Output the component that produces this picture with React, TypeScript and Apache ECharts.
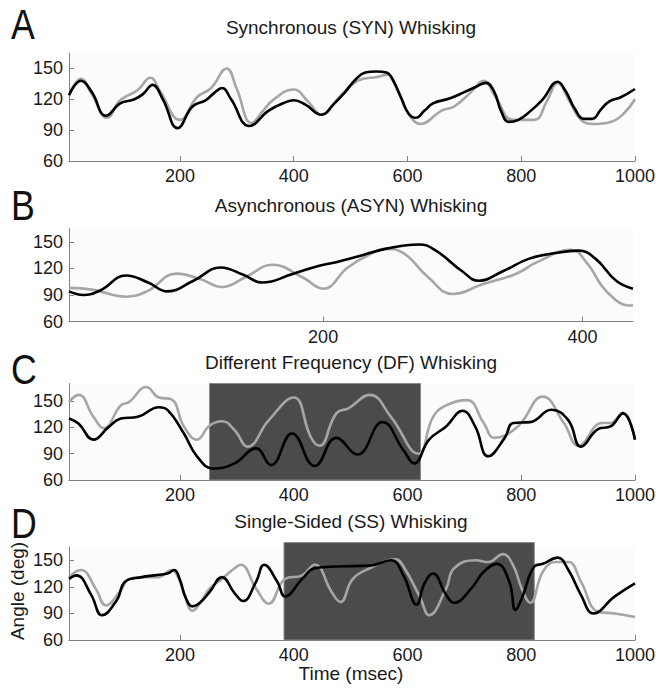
import React, { useEffect, useRef } from "react";
import * as echarts from "echarts";

// ---------- data ----------
const panelLetters = ["A", "B", "C", "D"];
const panelTitles = [
  "Synchronous (SYN) Whisking",
  "Asynchronous (ASYN) Whisking",
  "Different Frequency (DF) Whisking",
  "Single-Sided (SS) Whisking",
];
const yTickValues = [60, 90, 120, 150];
const xTicksFull = [200, 400, 600, 800, 1000];
const xTicksAsyn = [200, 400];

const synBlack = [
  [5, 124], [26, 138], [45, 127], [70, 104], [95, 116], [120, 120], [135, 125], [152, 134],
  [170, 120], [196, 92], [222, 113], [245, 119], [260, 126], [274, 131], [290, 120], [322, 94],
  [356, 109], [385, 117], [400, 119], [420, 115], [449, 105], [470, 115], [489, 126], [510, 140],
  [526, 146], [545, 147], [563, 146], [575, 138], [590, 120], [602, 106], [615, 102], [630, 109],
  [645, 116], [675, 121], [700, 127], [720, 132], [738, 136], [752, 128], [765, 108], [778, 98],
  [795, 100], [815, 108], [838, 120], [864, 137], [878, 128], [895, 110], [910, 101], [925, 101],
  [940, 110], [955, 118], [975, 122], [1000, 130],
];
const synGray = [
  [5, 124], [26, 140], [45, 125], [72, 102], [95, 119], [126, 129], [148, 141], [165, 128],
  [200, 100], [230, 122], [255, 131], [282, 150], [300, 130], [326, 97], [345, 108], [363, 119],
  [400, 129.5], [425, 118], [449, 105], [480, 122], [512, 138], [549, 142], [564, 144], [585, 126],
  [600, 108], [623, 96], [660, 109], [682, 113], [710, 126], [734, 138], [755, 122], [786, 100],
  [823, 100], [845, 118], [864, 136], [885, 118], [905, 100], [927, 96], [957, 98], [980, 106],
  [1000, 120],
];
const asynBlack = [
  [4, 94], [15, 90], [28, 95], [48, 112], [65, 104], [80, 94], [100, 106], [121, 121], [138, 113],
  [153, 104], [177, 114], [197, 123], [210, 127], [226, 133], [248, 142], [274, 147], [287, 140],
  [307, 117], [320, 106], [339, 117], [359, 131], [382, 138], [397, 140], [410, 131], [426, 106],
  [439, 97],
];
const asynGray = [
  [4, 98], [22, 96], [48, 88], [64, 94], [87, 114], [105, 108], [122, 99], [140, 110], [161, 124],
  [184, 110], [200, 97], [219, 121], [235, 135], [248, 142], [261, 138], [281, 110], [300, 91],
  [323, 102], [349, 114], [365, 127], [391, 141], [404, 125], [415, 100], [425, 85], [432, 79],
  [439, 78],
];
const dfBlack = [
  [5, 130], [22, 124], [48, 106], [74, 120], [96, 130], [126, 132], [163, 143], [178, 140],
  [207, 113], [230, 87], [259, 73], [296, 79], [334, 96], [360, 77], [397, 113], [437, 76],
  [475, 108], [512, 89], [556, 126], [593, 94], [612, 79], [638, 106], [668, 121], [697, 139],
  [719, 121], [742, 87], [771, 108], [786, 125], [816, 126], [853, 140], [883, 128], [905, 98],
  [935, 118], [957, 121], [979, 136], [1000, 106],
];
const dfGray = [
  [5, 149], [22, 157], [48, 132], [66, 119], [96, 145], [111, 149], [141, 166], [163, 154],
  [185, 152], [207, 121], [230, 106], [252, 122], [274, 127], [296, 117], [319, 98], [356, 128],
  [400, 154], [430, 109], [445, 99], [475, 136], [497, 142], [534, 157], [571, 132], [619, 90],
  [645, 132], [668, 145], [705, 151], [734, 125], [753, 108], [794, 121], [838, 155], [875, 125],
  [901, 99], [942, 125], [957, 125], [979, 137], [1000, 106],
];
const ssBlack = [
  [5, 129], [18, 133], [44, 111], [63, 88], [89, 105], [104, 126], [133, 131], [155, 133],
  [178, 135], [190, 139], [200, 128], [210, 108], [222, 98], [235, 102], [252, 114], [274, 131],
  [296, 113], [311, 104], [334, 126], [348, 145], [371, 126], [385, 109], [415, 129], [437, 141],
  [475, 143], [534, 144], [571, 150], [593, 133], [616, 100], [630, 124], [645, 135], [668, 111],
  [682, 102], [712, 118], [734, 137], [757, 146], [779, 126], [790, 94], [801, 107], [823, 143],
  [838, 146], [864, 153], [883, 139], [905, 111], [927, 90], [964, 109], [1000, 124],
];
const ssGray = [
  [5, 131], [26, 139], [52, 118], [70, 99], [96, 116], [111, 129], [141, 131], [163, 131],
  [185, 139], [196, 132], [207, 113], [222, 93], [237, 103], [252, 118], [274, 129], [296, 141],
  [307, 145], [334, 118], [356, 101], [385, 129], [415, 133], [437, 145], [467, 114], [482, 103],
  [504, 129], [534, 141], [579, 151], [593, 143], [623, 107], [638, 88], [668, 118], [682, 141],
  [720, 150], [742, 148], [768, 157], [786, 144], [801, 118], [816, 102], [838, 137], [860, 148],
  [883, 148], [905, 126], [935, 92], [964, 90], [1000, 86],
];
const dfRect = [252, 623, 60, 170];
const ssRect = [383, 823, 60, 170];

// ---------- layout ----------
const FONT = "'Liberation Sans', Arial, Helvetica, sans-serif";
const grids = [
  { left: 69, top: 53, width: 566, height: 108 },
  { left: 69, top: 228.5, width: 564, height: 93 },
  { left: 69, top: 383.5, width: 566, height: 96.5 },
  { left: 69, top: 547, width: 566, height: 93 },
];
const xRanges = [
  [5, 1000],
  [4, 439],
  [5, 1000],
  [5, 1000],
];
const yMax = [165, 165, 170, 165];
const titleY = [27, 205, 362, 521];
const letterY = [24, 205, 369, 523];

export default function App() {
  const ref = useRef<HTMLDivElement>(null);
  useEffect(() => {
    if (!ref.current) return;
    const chart = echarts.init(ref.current, null, { renderer: "svg" });
    const axisColor = "#808080";
    const xAxis = grids.map((_, i) => ({
      type: "value",
      gridIndex: i,
      min: xRanges[i][0],
      max: xRanges[i][1],
      axisLine: { show: true, lineStyle: { color: axisColor, width: 1 } },
      axisTick: {
        show: true,
        inside: true,
        length: 5,
        lineStyle: { color: axisColor },
        customValues: i === 1 ? xTicksAsyn : xTicksFull,
      },
      axisLabel: {
        show: true,
        margin: 6,
        fontSize: 18,
        fontFamily: FONT,
        color: "#1a1a1a",
        formatter: (v: number) => String(v),
        customValues: i === 1 ? xTicksAsyn : xTicksFull,
      },
      splitLine: { show: false },
    }));
    const yAxis = grids.map((_, i) => ({
      type: "value",
      gridIndex: i,
      min: 60,
      max: yMax[i],
      axisLine: { show: true, lineStyle: { color: axisColor, width: 1 } },
      axisTick: {
        show: true,
        inside: true,
        length: 5,
        lineStyle: { color: axisColor },
        customValues: yTickValues.slice(1),
      },
      axisLabel: {
        show: true,
        margin: 6,
        fontSize: 18,
        fontFamily: FONT,
        color: "#1a1a1a",
        formatter: (v: number) => String(v),
        customValues: yTickValues,
      },
      splitLine: { show: false },
    }));
    const pairs = [
      [synGray, synBlack],
      [asynGray, asynBlack],
      [dfGray, dfBlack],
      [ssGray, ssBlack],
    ];
    const rects: (number[] | null)[] = [null, null, dfRect, ssRect];
    const series: any[] = [];
    pairs.forEach((p, i) => {
      const r = rects[i];
      if (r) {
        series.push({
          type: "custom",
          xAxisIndex: i,
          yAxisIndex: i,
          clip: false,
          silent: true,
          z: 1,
          data: [r],
          renderItem: (_params: any, api: any) => {
            const a = api.coord([api.value(0), api.value(3)]);
            const b = api.coord([api.value(1), api.value(2)]);
            return {
              type: "rect",
              shape: { x: a[0], y: a[1], width: b[0] - a[0], height: b[1] - a[1] },
              style: { fill: "#4b4b4b", stroke: "#8a8a8a", lineWidth: 1 },
            };
          },
        });
      }
      series.push({
        type: "line",
        xAxisIndex: i,
        yAxisIndex: i,
        data: p[0],
        smooth: 0.45,
        showSymbol: false,
        z: 2,
        lineStyle: { color: "#a6a6a6", width: 2.6 },
      });
      series.push({
        type: "line",
        xAxisIndex: i,
        yAxisIndex: i,
        data: p[1],
        smooth: 0.45,
        showSymbol: false,
        z: 3,
        lineStyle: { color: "#000000", width: 2.6 },
      });
    });
    const graphic: any[] = [];
    panelTitles.forEach((t, i) => {
      graphic.push({
        type: "text",
        x: 351,
        y: titleY[i],
        style: {
          text: t,
          fontSize: 19,
          fontFamily: FONT,
          fill: "#1a1a1a",
          align: "center",
          verticalAlign: "middle",
        },
      });
      graphic.push({
        type: "text",
        x: 11,
        y: letterY[i],
        scaleX: 0.85,
        style: {
          text: panelLetters[i],
          fontSize: 42,
          fontFamily: FONT,
          fill: "#111",
          align: "left",
          verticalAlign: "middle",
        },
      });
    });
    graphic.push({
      type: "text",
      x: 351,
      y: 673,
      style: {
        text: "Time (msec)",
        fontSize: 19,
        fontFamily: FONT,
        fill: "#1a1a1a",
        align: "center",
        verticalAlign: "middle",
      },
    });
    graphic.push({
      type: "text",
      x: 17,
      y: 591,
      rotation: Math.PI / 2,
      style: {
        text: "Angle (deg)",
        fontSize: 19,
        fontFamily: FONT,
        fill: "#1a1a1a",
        align: "center",
        verticalAlign: "middle",
      },
    });
    chart.setOption({
      animation: false,
      backgroundColor: "#ffffff",
      grid: grids.map((g) => ({
        ...g,
        show: true,
        backgroundColor: "#fbfbfb",
        borderWidth: 0,
      })),
      xAxis,
      yAxis,
      series,
      graphic,
    });
    return () => chart.dispose();
  }, []);
  return (
    <div
      ref={ref}
      style={{ position: "absolute", left: 0, top: 0, width: 658, height: 688 }}
    />
  );
}
